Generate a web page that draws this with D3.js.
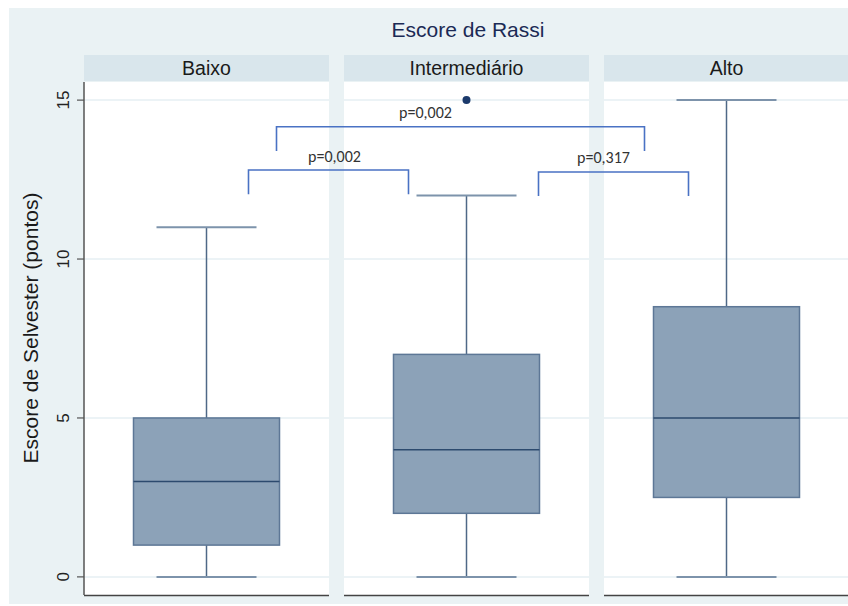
<!DOCTYPE html>
<html><head><meta charset="utf-8">
<script src="https://cdn.jsdelivr.net/npm/d3@7"></script>
<style>body{margin:0;background:#fff}svg{display:block}</style>
</head><body>
<script>
// ---- data ----
const categories = ["Baixo", "Intermediário", "Alto"];
const mins    = [0, 0, 0];
const q1s     = [1, 2, 2.5];
const medians = [3, 4, 5];
const q3s     = [5, 7, 8.5];
const maxs    = [11, 12, 15];
const outliers = [[], [15], []];
const yTicks = [0, 5, 10, 15];
const pLabels = ["p=0,002", "p=0,317", "p=0,002"];
const pPairs = [[0, 1], [1, 2], [0, 2]];
const pLevels = [12.8, 12.74, 14.16];
const titleText = "Escore de Rassi";
const yTitle = "Escore de Selvester (pontos)";

// ---- layout ----
const W = 848, H = 606;
const svg = d3.select("body").append("svg").attr("width", W).attr("height", H);
const font = "'Liberation Sans', Arial, sans-serif";
const y = d3.scaleLinear().domain([-0.57, 15.57]).range([595, 82]);
const panelX = d3.scaleBand().domain(categories).range([84, 849]).paddingInner(15/260).paddingOuter(0);
const pw = panelX.bandwidth();
const boxW = 146, capW = 100;
// bracket end offsets from panel centres (px) and label offsets
const bracketEnds = [[42, -58], [72, -38], [70, -82]];
const labelDx = [6, -10, -35];
const bracketDrop = 0.76;

svg.append("rect").attr("x", 9).attr("y", 8).attr("width", W - 9).attr("height", 596).attr("fill", "#eaf2f4");

svg.append("text").attr("x", 468).attr("y", 37).attr("text-anchor", "middle")
  .attr("font-family", font).attr("font-size", 21).attr("fill", "#1b2a55").text(titleText);

categories.forEach((c, i) => {
  const x0 = panelX(c), cx = x0 + pw / 2;
  const g = svg.append("g");
  g.append("rect").attr("x", x0).attr("y", 55).attr("width", pw).attr("height", 26).attr("fill", "#d9e6ec");
  g.append("text").attr("x", cx).attr("y", 75).attr("text-anchor", "middle")
    .attr("font-family", font).attr("font-size", 19.5).attr("fill", "#1a1a1a").text(c);
  g.append("rect").attr("x", x0).attr("y", 82).attr("width", pw).attr("height", 513).attr("fill", "#ffffff");
  yTicks.forEach(t => {
    g.append("line").attr("x1", x0).attr("x2", x0 + pw).attr("y1", y(t)).attr("y2", y(t))
      .attr("stroke", "#e6eff3").attr("stroke-width", 1.5);
  });
  g.append("line").attr("x1", x0).attr("x2", x0 + pw).attr("y1", 595.5).attr("y2", 595.5)
    .attr("stroke", "#444").attr("stroke-width", 1.5);
  const wc = "#4f6887";
  g.append("line").attr("x1", cx).attr("x2", cx).attr("y1", y(q3s[i])).attr("y2", y(maxs[i])).attr("stroke", wc).attr("stroke-width", 1.5);
  g.append("line").attr("x1", cx).attr("x2", cx).attr("y1", y(q1s[i])).attr("y2", y(mins[i])).attr("stroke", wc).attr("stroke-width", 1.5);
  g.append("line").attr("x1", cx - capW/2).attr("x2", cx + capW/2).attr("y1", y(maxs[i])).attr("y2", y(maxs[i])).attr("stroke", "#7d93ab").attr("stroke-width", 2);
  g.append("line").attr("x1", cx - capW/2).attr("x2", cx + capW/2).attr("y1", y(mins[i])).attr("y2", y(mins[i])).attr("stroke", "#7d93ab").attr("stroke-width", 2);
  g.append("rect").attr("x", cx - boxW/2).attr("y", y(q3s[i])).attr("width", boxW).attr("height", y(q1s[i]) - y(q3s[i]))
    .attr("fill", "#8ca2b8").attr("stroke", "#5d7796").attr("stroke-width", 1.5);
  g.append("line").attr("x1", cx - boxW/2).attr("x2", cx + boxW/2).attr("y1", y(medians[i])).attr("y2", y(medians[i]))
    .attr("stroke", "#2c4a6e").attr("stroke-width", 1.5);
  outliers[i].forEach(v => {
    g.append("circle").attr("cx", cx).attr("cy", y(v)).attr("r", 4).attr("fill", "#1b3a6b");
  });
});

// y axis
const axisG = svg.append("g").attr("transform", "translate(84,0)");
axisG.append("line").attr("x1", 0).attr("x2", 0).attr("y1", 82).attr("y2", 595).attr("stroke", "#555").attr("stroke-width", 1.5);
yTicks.forEach(t => {
  axisG.append("line").attr("x1", -7).attr("x2", 0).attr("y1", y(t)).attr("y2", y(t)).attr("stroke", "#555").attr("stroke-width", 1.2);
  axisG.append("text").attr("transform", `translate(-15,${y(t)}) rotate(-90)`).attr("text-anchor", "middle")
    .attr("font-family", font).attr("font-size", 17).attr("fill", "#222").text(t);
});
svg.append("text").attr("transform", `translate(38,328) rotate(-90)`).attr("text-anchor", "middle")
  .attr("font-family", font).attr("font-size", 21).attr("fill", "#1a1a1a").text(yTitle);

// significance brackets
pPairs.forEach((p, k) => {
  const xa = panelX(categories[p[0]]) + pw/2 + bracketEnds[k][0];
  const xb = panelX(categories[p[1]]) + pw/2 + bracketEnds[k][1];
  const yt = y(pLevels[k]), yb = y(pLevels[k] - bracketDrop);
  svg.append("path").attr("d", `M${xa},${yb}V${yt}H${xb}V${yb}`).attr("fill", "none")
    .attr("stroke", "#4a72c4").attr("stroke-width", 1.6);
  svg.append("text").attr("x", (xa + xb) / 2 + labelDx[k]).attr("y", yt - 8.5).attr("text-anchor", "middle")
    .attr("font-family", "Carlito, 'Open Sans', sans-serif").attr("font-size", 16).attr("fill", "#333").text(pLabels[k]);
});
</script>
</body></html>
